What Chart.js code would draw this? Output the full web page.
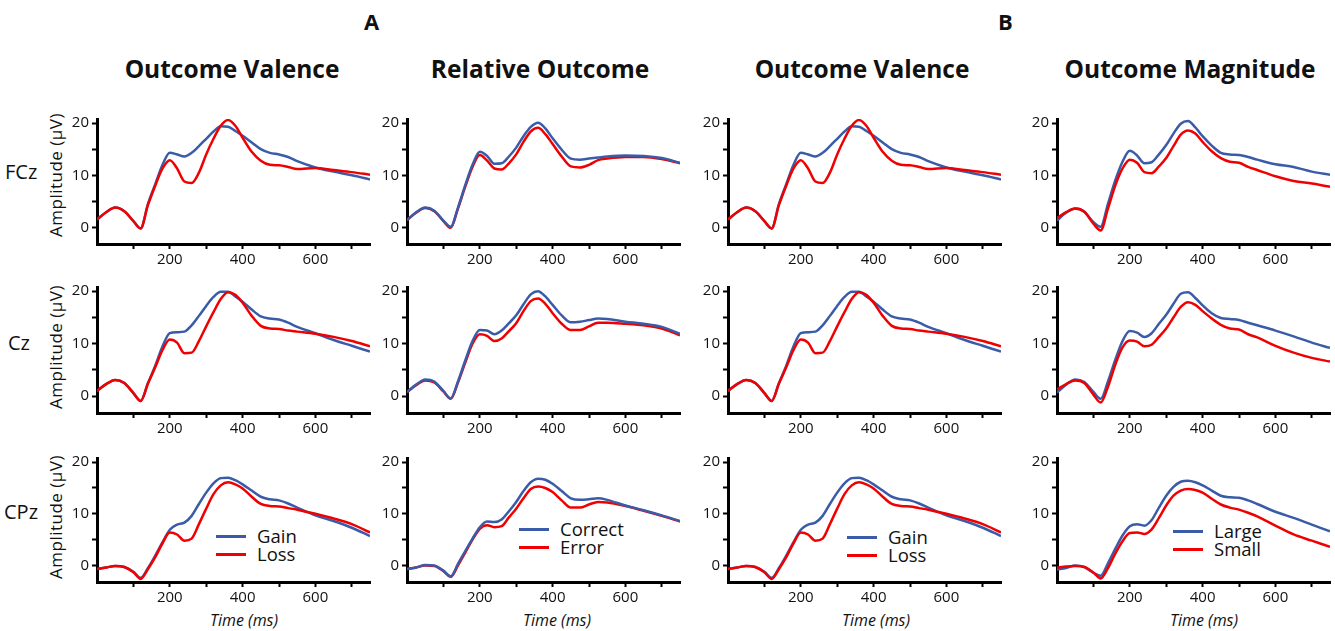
<!DOCTYPE html>
<html>
<head>
<meta charset="utf-8">
<script src="https://cdn.jsdelivr.net/npm/chart.js@4.4.1/dist/chart.umd.min.js"></script>
<style>
  body { margin: 0; background: #fff; width: 1335px; height: 631px; overflow: hidden; position: relative;
         font-family: "Open Sans", sans-serif; color: #111; }
  canvas { position: absolute; }
  .t { position: absolute; white-space: nowrap; line-height: 1; }
  .panel-letter { font-weight: 700; font-size: 22px; }
  .title { font-weight: 700; font-size: 24.5px; transform: translateX(-50%); }
  .row { font-size: 20px; }
  .amp { font-size: 17px; letter-spacing: 0.5px; transform: translate(-50%, -50%) rotate(-90deg); }
  .time { font-size: 16px; font-style: italic; transform: translateX(-50%); }
  .leg { position: absolute; font-size: 18.5px; line-height: 18px; }
  .leg div { display: flex; align-items: center; height: 18px; }
  .leg span { display: inline-block; width: 30px; height: 3px; margin-right: 11px; }
  .blue { background: #3a5ca8; }
  .red { background: #f00000; }
</style>
</head>
<body>
<div class="t panel-letter" style="left:364px;top:10px">A</div>
<div class="t panel-letter" style="left:998px;top:10px">B</div>

<div class="t title" style="left:232px;top:57px">Outcome Valence</div>
<div class="t title" style="left:540px;top:57px">Relative Outcome</div>
<div class="t title" style="left:862px;top:57px">Outcome Valence</div>
<div class="t title" style="left:1190px;top:57px">Outcome Magnitude</div>

<div class="t row" style="left:5px;top:162px">FCz</div>
<div class="t row" style="left:8px;top:333px">Cz</div>
<div class="t row" style="left:4px;top:502px">CPz</div>

<div class="t amp" style="left:55px;top:175px">Amplitude (μV)</div>
<div class="t amp" style="left:55px;top:347px">Amplitude (μV)</div>
<div class="t amp" style="left:55px;top:517px">Amplitude (μV)</div>

<div class="t time" style="left:244px;top:612px">Time (ms)</div>
<div class="t time" style="left:557px;top:612px">Time (ms)</div>
<div class="t time" style="left:876px;top:612px">Time (ms)</div>
<div class="t time" style="left:1204px;top:612px">Time (ms)</div>

<div class="leg" style="left:216px;top:527px"><div><span class="blue"></span>Gain</div><div><span class="red"></span>Loss</div></div>
<div class="leg" style="left:519px;top:520px"><div><span class="blue"></span>Correct</div><div><span class="red"></span>Error</div></div>
<div class="leg" style="left:847px;top:528px"><div><span class="blue"></span>Gain</div><div><span class="red"></span>Loss</div></div>
<div class="leg" style="left:1173px;top:522px"><div><span class="blue"></span>Large</div><div><span class="red"></span>Small</div></div>

<script>
// sample times (ms) shared by every waveform
const timeMs = [0, 25, 50, 75, 100, 120, 140, 160, 180, 200, 220, 240, 260, 280, 300, 320, 340, 360, 380, 400, 425, 450, 475, 500, 525, 550, 600, 650, 700, 750];

const xTicks = [100, 200, 300, 400, 500, 600, 700];
const xTickLabels = [200, 400, 600];
const yTicks = [0, 5, 10, 15, 20];
const yTickLabels = [0, 10, 20];

// Outcome valence (gain / loss)
const valenceFCzGain = [1.5, 2.9, 3.8, 3.1, 1.2, -0.2, 4.5, 8.3, 12.0, 14.3, 14.0, 13.6, 14.3, 15.6, 17.0, 18.4, 19.4, 19.3, 18.5, 17.6, 16.3, 15.0, 14.3, 14.0, 13.5, 12.7, 11.5, 10.7, 10.0, 9.2];
const valenceFCzLoss = [1.5, 2.9, 3.8, 3.1, 1.2, -0.2, 4.3, 8.0, 11.3, 12.9, 11.3, 8.8, 8.5, 10.5, 14.0, 17.0, 19.5, 20.6, 19.5, 17.2, 14.5, 12.8, 12.0, 11.9, 11.6, 11.2, 11.4, 11.0, 10.6, 10.1];
const valenceCzGain = [1.0, 2.3, 3.1, 2.5, 0.6, -0.9, 2.5, 5.8, 9.5, 12.0, 12.2, 12.3, 13.5, 15.3, 17.2, 18.9, 19.9, 19.9, 19.0, 18.0, 16.5, 15.2, 14.8, 14.6, 14.0, 13.2, 12.0, 10.7, 9.6, 8.5];
const valenceCzLoss = [1.0, 2.3, 3.1, 2.5, 0.6, -0.9, 2.4, 5.5, 8.8, 10.8, 10.2, 8.2, 8.3, 10.5, 13.3, 16.0, 18.5, 19.8, 19.3, 17.8, 15.3, 13.4, 12.9, 12.8, 12.5, 12.3, 11.9, 11.3, 10.5, 9.5];
const valenceCPzGain = [-0.7, -0.4, -0.1, -0.3, -1.2, -2.4, -0.5, 1.9, 4.5, 6.9, 7.9, 8.3, 9.6, 11.9, 14.1, 15.9, 16.9, 17.0, 16.5, 15.7, 14.5, 13.3, 12.8, 12.6, 12.0, 11.2, 9.7, 8.6, 7.3, 5.7];
const valenceCPzLoss = [-0.7, -0.4, -0.1, -0.3, -1.3, -2.6, -0.7, 1.6, 4.3, 6.4, 6.0, 4.8, 5.2, 8.0, 11.0, 13.8, 15.5, 16.1, 15.7, 14.9, 13.3, 11.9, 11.5, 11.4, 11.1, 10.8, 10.0, 9.1, 8.0, 6.4];

// Relative outcome (correct / error)
const relativeFCzCorrect = [1.4, 2.9, 3.8, 3.2, 1.3, 0.1, 3.8, 8.1, 12.0, 14.5, 13.7, 12.2, 12.3, 13.6, 15.3, 17.5, 19.3, 20.1, 19.0, 17.1, 14.9, 13.2, 13.0, 13.2, 13.4, 13.6, 13.8, 13.7, 13.3, 12.4];
const relativeFCzError = [1.4, 2.8, 3.7, 3.1, 1.2, -0.1, 3.6, 7.8, 11.6, 13.9, 12.8, 11.3, 11.1, 12.3, 14.0, 16.4, 18.4, 19.1, 17.9, 16.0, 13.6, 11.7, 11.5, 12.0, 12.9, 13.2, 13.5, 13.5, 13.1, 12.3];
const relativeCzCorrect = [0.8, 2.2, 3.2, 2.8, 1.0, -0.4, 2.8, 6.8, 10.5, 12.6, 12.5, 11.8, 12.5, 13.9, 15.4, 17.5, 19.4, 20.0, 19.0, 17.4, 15.4, 14.1, 14.2, 14.5, 14.8, 14.7, 14.2, 13.8, 13.2, 11.9];
const relativeCzError = [0.8, 2.1, 3.0, 2.6, 0.9, -0.5, 2.6, 6.4, 10.0, 11.8, 11.5, 10.5, 11.0, 12.4, 13.9, 16.2, 18.1, 18.6, 17.6, 15.8, 13.8, 12.6, 12.6, 13.3, 14.0, 14.0, 13.8, 13.5, 12.9, 11.6];
const relativeCPzCorrect = [-0.7, -0.4, 0.1, 0.0, -1.0, -2.1, 0.3, 2.8, 5.2, 7.4, 8.5, 8.4, 8.9, 10.5, 12.3, 14.4, 16.1, 16.8, 16.6, 15.8, 14.4, 13.0, 12.7, 12.8, 13.0, 12.7, 11.6, 10.7, 9.7, 8.6];
const relativeCPzError = [-0.7, -0.4, 0.0, -0.1, -1.1, -2.2, 0.0, 2.5, 5.0, 7.1, 7.8, 7.4, 7.6, 9.3, 11.0, 13.0, 14.8, 15.3, 15.0, 14.2, 12.6, 11.2, 11.2, 11.8, 12.3, 12.2, 11.5, 10.6, 9.6, 8.5];

// Outcome magnitude (large / small)
const magnitudeFCzLarge = [1.3, 2.8, 3.6, 3.0, 1.0, 0.1, 4.5, 9.0, 12.6, 14.7, 13.8, 12.3, 12.5, 14.0, 15.8, 18.0, 19.9, 20.4, 19.2, 17.5, 15.7, 14.3, 14.0, 13.9, 13.5, 13.0, 12.1, 11.6, 10.7, 10.1];
const magnitudeFCzSmall = [1.8, 2.9, 3.6, 3.0, 0.7, -0.6, 3.6, 8.0, 11.3, 13.0, 12.4, 10.6, 10.4, 11.7, 13.3, 15.6, 17.8, 18.6, 18.0, 16.4, 14.6, 13.3, 12.6, 12.4, 11.6, 11.0, 9.8, 8.9, 8.4, 7.8];
const magnitudeCzLarge = [0.7, 2.2, 3.2, 2.7, 0.8, -0.5, 2.8, 6.9, 10.5, 12.4, 12.1, 11.3, 12.0, 13.8, 15.5, 17.6, 19.5, 19.8, 18.7, 17.3, 15.8, 14.9, 14.7, 14.5, 14.0, 13.5, 12.5, 11.4, 10.2, 9.2];
const magnitudeCzSmall = [1.3, 2.3, 3.0, 2.5, 0.3, -1.2, 1.8, 6.0, 9.3, 10.6, 10.4, 9.5, 9.8, 11.3, 12.9, 15.0, 17.0, 17.9, 17.4, 16.2, 14.8, 13.6, 12.9, 12.7, 11.8, 11.2, 9.6, 8.3, 7.3, 6.6];
const magnitudeCPzLarge = [-0.8, -0.5, 0.0, -0.3, -1.4, -2.0, 0.4, 3.2, 5.8, 7.6, 8.0, 7.7, 8.8, 11.2, 13.5, 15.2, 16.2, 16.4, 16.1, 15.5, 14.5, 13.5, 13.2, 13.1, 12.6, 11.9, 10.4, 9.2, 7.9, 6.6];
const magnitudeCPzSmall = [-0.4, -0.2, -0.1, -0.3, -1.4, -2.5, -0.5, 2.3, 4.7, 6.3, 6.4, 6.1, 7.0, 9.2, 11.6, 13.5, 14.5, 14.8, 14.6, 14.1, 12.9, 11.8, 11.2, 10.8, 10.2, 9.5, 7.7, 6.0, 4.8, 3.6];

const BLUE = "#3a5ca8";
const RED = "#f00000";

// layout of the 4 x 3 grid (plot area edges in page pixels)
const colLeft = [97, 407, 728, 1057];
const rowTop = [113, 281, 452];
const rowBottom = [244, 413, 582];
const plotWidth = 273;
const AXIS_W = 40, AXIS_H = 30, PAD_TOP = 6, PAD_RIGHT = 5;

const tickFont = { family: "'Open Sans', sans-serif", size: 15 };

function toPoints(values) {
  return timeMs.map((t, i) => ({ x: t, y: values[i] }));
}

function makePanel(col, row, blue, red, redOnTop) {
  const canvas = document.createElement("canvas");
  canvas.width = AXIS_W + plotWidth + PAD_RIGHT;
  canvas.height = PAD_TOP + (rowBottom[row] - rowTop[row]) + AXIS_H;
  canvas.style.left = (colLeft[col] - AXIS_W) + "px";
  canvas.style.top = (rowTop[row] - PAD_TOP) + "px";
  document.body.appendChild(canvas);

  const axisGrid = { drawOnChartArea: false, drawTicks: true, tickLength: 5, tickWidth: 2, tickColor: "#000" };
  const axisBorder = { display: true, width: 3, color: "#000" };

  new Chart(canvas, {
    type: "line",
    data: {
      datasets: [
        { data: toPoints(blue), borderColor: BLUE, order: redOnTop ? 1 : 0 },
        { data: toPoints(red), borderColor: RED, order: redOnTop ? 0 : 1 }
      ]
    },
    options: {
      responsive: false,
      animation: false,
      layout: { padding: { top: PAD_TOP, right: PAD_RIGHT, left: 0, bottom: 0 } },
      plugins: { legend: { display: false }, tooltip: { enabled: false } },
      elements: {
        point: { radius: 0 },
        line: { borderWidth: 2.5, cubicInterpolationMode: "monotone" }
      },
      scales: {
        x: {
          type: "linear",
          min: 0,
          max: 750,
          afterBuildTicks: (s) => { s.ticks = xTicks.map((v) => ({ value: v })); },
          afterFit: (s) => { s.height = AXIS_H; },
          ticks: {
            autoSkip: false, maxRotation: 0, padding: 2, color: "#111", font: tickFont,
            callback: (v) => (xTickLabels.includes(v) ? String(v) : "")
          },
          grid: axisGrid,
          border: axisBorder
        },
        y: {
          min: -3.2,
          max: 20.8,
          afterBuildTicks: (s) => { s.ticks = yTicks.map((v) => ({ value: v })); },
          afterFit: (s) => { s.width = AXIS_W; },
          ticks: {
            autoSkip: false, padding: 3, color: "#111", font: tickFont,
            callback: (v) => (yTickLabels.includes(v) ? String(v) : "")
          },
          grid: axisGrid,
          border: axisBorder
        }
      }
    }
  });
}

const panels = [
  [valenceFCzGain, valenceFCzLoss, valenceCzGain, valenceCzLoss, valenceCPzGain, valenceCPzLoss, true],
  [relativeFCzCorrect, relativeFCzError, relativeCzCorrect, relativeCzError, relativeCPzCorrect, relativeCPzError, false],
  [valenceFCzGain, valenceFCzLoss, valenceCzGain, valenceCzLoss, valenceCPzGain, valenceCPzLoss, true],
  [magnitudeFCzLarge, magnitudeFCzSmall, magnitudeCzLarge, magnitudeCzSmall, magnitudeCPzLarge, magnitudeCPzSmall, true]
];

panels.forEach((p, col) => {
  for (let row = 0; row < 3; row++) {
    makePanel(col, row, p[row * 2], p[row * 2 + 1], p[6]);
  }
});
</script>
</body>
</html>
